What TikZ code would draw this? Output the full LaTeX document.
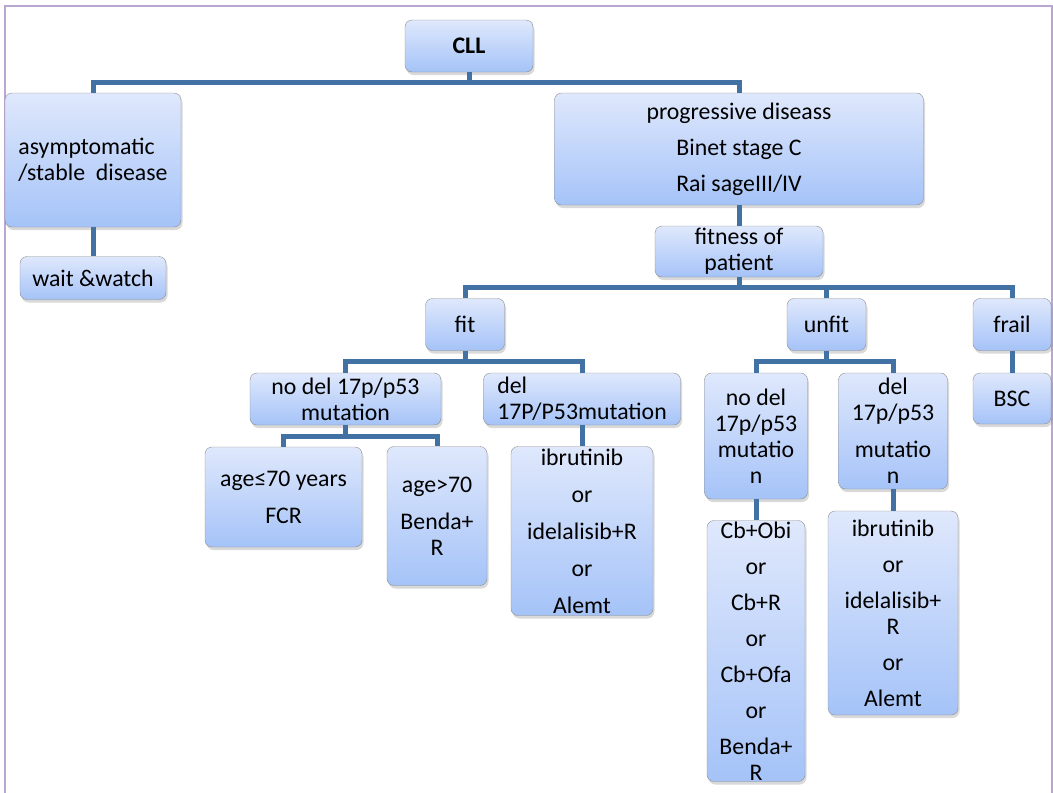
\documentclass[tikz,border=0pt]{standalone}
\usepackage{fontspec}
\setmainfont{Carlito}
\usetikzlibrary{shadows,positioning}

\definecolor{boxtop}{HTML}{DFE8FC}
\definecolor{boxbot}{HTML}{A5C3F8}
\definecolor{linkblue}{HTML}{4272A4}
\definecolor{framepurple}{HTML}{B9A6D3}

\tikzset{
  box/.style={draw=black!45, rounded corners=7pt, top color=boxtop, bottom color=boxbot,
    drop shadow={shadow xshift=1.5pt, shadow yshift=-3pt, opacity=0.3},
    inner sep=0pt, align=center, font=\fontsize{23.8}{26}\selectfont},
  link/.style={draw=linkblue, line width=5pt},
}

\begin{document}
\begin{tikzpicture}[x=1pt,y=-1pt]
  \useasboundingbox (0,0) rectangle (1053,793);
  \draw[framepurple, line width=1.5pt] (5,793) -- (5,6) -- (1052,6) -- (1052,793);

  % top level
  \node[box, minimum width=128, minimum height=52] (cll) at (469,46) {\textbf{CLL}};
  \node[box, minimum width=176, minimum height=134, align=left] (asym) at (93,160)
    {asymptomatic\\/stable\ \ disease};
  \node[box, minimum width=146, minimum height=43] (wait) at (93,278) {wait \&watch};
  \node[box, minimum width=369, minimum height=112] (prog) at (739,149)
    {progressive diseass\\[10pt]Binet stage C\\[10pt]Rai sageIII/IV};
  \node[box, minimum width=168, minimum height=51] (fitness) at (739,251.5) {fitness of\\patient};

  % fitness groups
  \node[box, minimum width=79, minimum height=52] (fit) at (465,324.5) {fit};
  \node[box, minimum width=79, minimum height=52] (unfit) at (826.5,324.5) {unfit};
  \node[box, minimum width=78, minimum height=52] (frail) at (1012,324.5) {frail};

  % fit branch
  \node[box, minimum width=191, minimum height=52] (nodelA) at (345.5,399) {no del 17p/p53\\mutation};
  \node[box, minimum width=197, minimum height=52, align=left] (delA) at (582,399) {del\\17P/P53mutation};
  \node[box, minimum width=157, minimum height=100] (young) at (283.5,497) {age≤70 years\\[11pt]FCR};
  \node[box, minimum width=100, minimum height=139] (old) at (437,516) {age>70\\[11pt]Benda+\\R};
  \node[box, minimum width=142, minimum height=169] (ibruA) at (582,531)
    {ibrutinib\\[11pt]or\\[11pt]idelalisib+R\\[11pt]or\\[11pt]Alemt};

  % unfit branch
  \node[box, minimum width=103, minimum height=126] (nodelB) at (756,436) {no del\\17p/p53\\mutatio\\n};
  \node[box, minimum width=109, minimum height=116] (delB) at (893,431) {del\\17p/p53\\[11pt]mutatio\\n};
  \node[box, minimum width=98, minimum height=261] (cbB) at (756,651)
    {Cb+Obi\\[10pt]or\\[10pt]Cb+R\\[10pt]or\\[10pt]Cb+Ofa\\[10pt]or\\[10pt]Benda+\\R};
  \node[box, minimum width=130, minimum height=204] (ibruB) at (893,613)
    {ibrutinib\\[10pt]or\\[10pt]idelalisib+\\R\\[10pt]or\\[10pt]Alemt};

  % frail branch
  \node[box, minimum width=78, minimum height=51] (bsc) at (1012,398.5) {BSC};

  % connectors
  \draw[link] (cll.south) -- ++(0,10) coordinate (j0);
  \draw[link] (asym.north) |- (j0) -| (prog.north);
  \draw[link] (asym) -- (wait);
  \draw[link] (prog) -- (fitness);
  \draw[link] (fitness.south) -- ++(0,10) coordinate (j1);
  \draw[link] (fit.north) |- (j1) -| (frail.north);
  \draw[link] (j1) -| (unfit.north);
  \draw[link] (fit.south) -- ++(0,11) coordinate (j2);
  \draw[link] (nodelA.north) |- (j2) -| (delA.north);
  \draw[link] (nodelA.south) -- ++(0,11) coordinate (j3);
  \draw[link] (young.north) |- (j3) -| (old.north);
  \draw[link] (delA) -- (ibruA);
  \draw[link] (unfit.south) -- ++(0,11) coordinate (j4);
  \draw[link] (nodelB.north) |- (j4) -| (delB.north);
  \draw[link] (nodelB) -- (cbB);
  \draw[link] (delB) -- (ibruB);
  \draw[link] (frail) -- (bsc);
\end{tikzpicture}
\end{document}
